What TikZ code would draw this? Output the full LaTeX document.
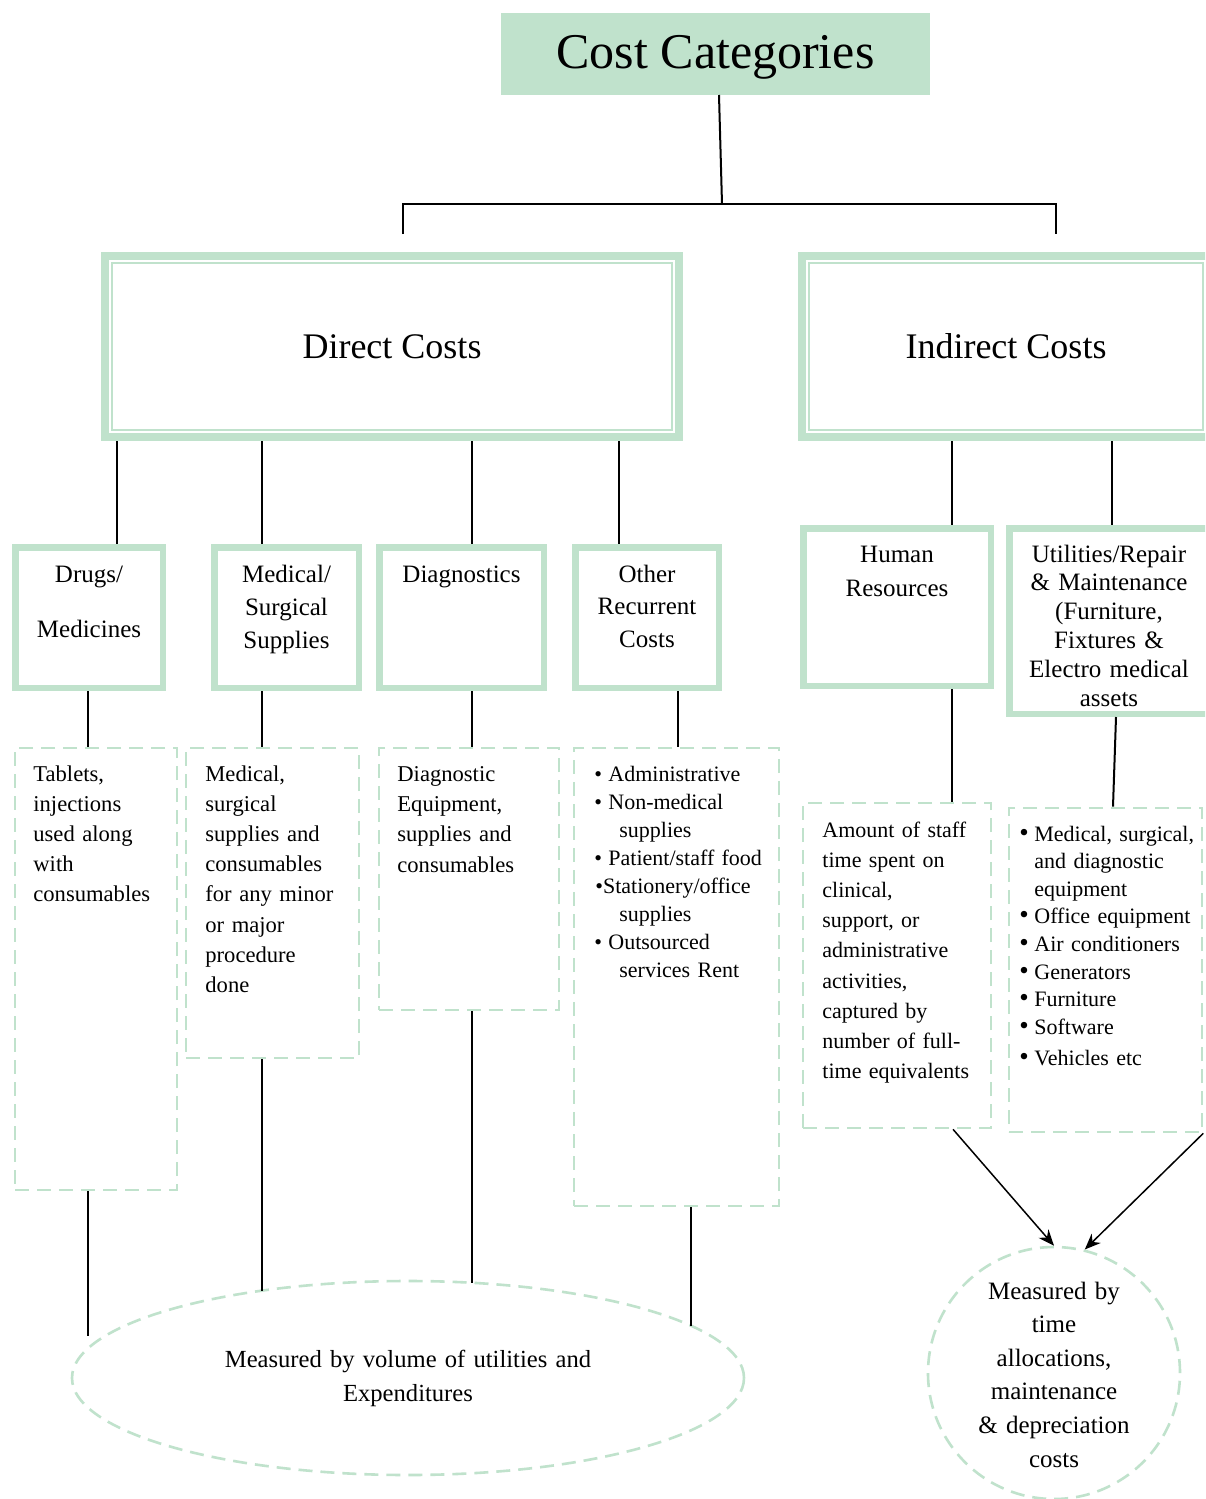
\documentclass[tikz,border=0pt]{standalone}
\usepackage{fontspec}
\setmainfont{Liberation Serif}
\usepackage{graphicx}
\usetikzlibrary{fit,shapes.geometric,arrows.meta}
\definecolor{lgreen}{RGB}{192,226,204}
\newcommand\obul{\makebox[7pt][l]{•}}
\newcommand\ubul{\makebox[7.5pt][l]{\fontsize{13.5}{13}\selectfont •}}
\begin{document}
\begin{tikzpicture}[x=0.5pt,y=-0.5pt,
  conn/.style={line width=1pt, black},
  arr/.style={line width=0.75pt, black, -{Stealth[length=8pt,width=6.5pt]}},
  titlebox/.style={fill=lgreen, inner sep=0pt, outer sep=0pt},
  mainbox/.style={draw=lgreen, line width=4pt, inner sep=0pt, outer sep=2pt},
  catbox/.style={draw=lgreen, line width=3.25pt, inner sep=0pt, outer sep=1.625pt},
  detbox/.style={draw=lgreen, line width=1.3pt, dash pattern=on 7pt off 4pt, inner sep=0pt, outer sep=0.65pt},
  measbox/.style={draw=lgreen, line width=1.3pt, dash pattern=on 7pt off 4pt, inner sep=0pt, outer sep=0.65pt},
  bigtxt/.style={anchor=base, inner sep=0pt, font=\fontsize{18}{22}\selectfont},
  cattxt/.style={anchor=base, inner sep=0pt, align=center, text width=95pt},
  dettxt/.style={anchor=base west, inner sep=0pt, align=left, text width=110pt}
]
\path[use as bounding box] (0,0) rectangle (1205,1499);
\clip (0,0) rectangle (1205,1499);
\fill[white] (0,0) rectangle (1205,1499);

% title
\node[titlebox, fit={(501,13) (930,95)}] (title) {};
\node[anchor=base, inner sep=0pt, font=\fontsize{25}{30}\selectfont] (titletxt) at (715.5,68) {Cost Categories};

% main boxes
\node[mainbox, fit={(105,256) (679,437)}] (direct) {};
\draw[lgreen, line width=1pt] ([shift={(5.5pt,-5.5pt)}]direct.north west) rectangle ([shift={(-5.5pt,5.5pt)}]direct.south east);
\node[bigtxt] (directtxt) at (392,358.5) {Direct Costs};
\node[mainbox, fit={(802,256) (1210,437)}] (indirect) {};
\draw[lgreen, line width=1pt] ([shift={(5.5pt,-5.5pt)}]indirect.north west) rectangle ([shift={(-5.5pt,5.5pt)}]indirect.south east);
\node[bigtxt] (indirecttxt) at (1006,358.5) {Indirect Costs};

% top connectors
\coordinate (hj) at (722,204);
\coordinate (hl) at (403,204);
\coordinate (hr) at (1056,204);
\coordinate (hlend) at (403,234);
\coordinate (hrend) at (1056,234);
\draw[conn] (title.south -| 719,0) -- (hj);
\draw[conn] (hlend) -- (hl) -- (hr) -- (hrend);

% category boxes
\node[catbox, fit={(15.25,547.25) (162.75,687.75)}] (drugs) {};
\node[catbox, fit={(214.25,547.25) (358.75,687.75)}] (medsup) {};
\node[catbox, fit={(379.25,547.25) (543.75,687.75)}] (diag) {};
\node[catbox, fit={(575.25,547.25) (718.75,687.75)}] (other) {};
\node[catbox, fit={(803.25,528.25) (990.75,685.75)}] (human) {};
\node[catbox, fit={(1009.25,528.25) (1208.75,713.75)}] (util) {};

\begin{scope}[font=\fontsize{12.5}{16.5}\selectfont]
\node[cattxt, font=\fontsize{12.5}{27.5}\selectfont] (drugstxt) at (89,582) {Drugs/\\Medicines};
\node[cattxt] (medsuptxt) at (286.5,582) {Medical/\\Surgical\\Supplies};
\node[cattxt] (diagtxt) at (461.5,582) {Diagnostics};
\node[cattxt, font=\fontsize{12.5}{16.25}\selectfont] (othertxt) at (647,582) {Other\\Recurrent\\Costs};
\node[cattxt, font=\fontsize{12.5}{17}\selectfont] (humantxt) at (897,562) {Human\\Resources};
\node[cattxt, font=\fontsize{12.5}{14.4}\selectfont] (utiltxt) at (1109,562) {Utilities/Repair\\\& Maintenance\\(Furniture,\\Fixtures \&\\Electro medical\\assets};
\end{scope}

\draw[conn] (direct.south -| 117,0) -- (drugs.north -| 117,0);
\draw[conn] (direct.south -| 262,0) -- (medsup.north -| 262,0);
\draw[conn] (direct.south -| 472,0) -- (diag.north -| 472,0);
\draw[conn] (direct.south -| 619,0) -- (other.north -| 619,0);
\draw[conn] (indirect.south -| 952,0) -- (human.north -| 952,0);
\draw[conn] (indirect.south -| 1112,0) -- (util.north -| 1112,0);

% detail boxes
\node[detbox, fit={(15,748) (177,1190)}] (d1) {};
\node[detbox, fit={(186,748) (359,1058)}] (d2) {};
\node[detbox, fit={(379,748) (559,1010)}] (d3) {};
\node[detbox, fit={(574,748) (779,1206)}] (d4) {};
\node[detbox, fit={(803,803) (991,1128)}] (d5) {};
\node[detbox, fit={(1009,808) (1202,1132)}] (d6) {};

\draw[conn] (drugs.south -| 88,0) -- (d1.north -| 88,0);
\draw[conn] (medsup.south -| 262,0) -- (d2.north -| 262,0);
\draw[conn] (diag.south -| 472,0) -- (d3.north -| 472,0);
\draw[conn] (other.south -| 678,0) -- (d4.north -| 678,0);
\draw[conn] (human.south -| 952,0) -- (d5.north -| 952,0);
\draw[conn] (util.south -| 1116,0) -- (d6.north -| 1113,0);

\node[dettxt, font=\fontsize{11.3}{15.1}\selectfont] (d1txt) at (33,781) {Tablets,\\injections\\used along\\with\\consumables};
\node[dettxt, font=\fontsize{11.3}{15.1}\selectfont] (d2txt) at (205,781) {Medical,\\surgical\\supplies and\\consumables\\for any minor\\or major\\procedure\\done};
\node[dettxt, font=\fontsize{11.3}{15.2}\selectfont] (d3txt) at (397,781) {Diagnostic\\Equipment,\\supplies and\\consumables};
\node[dettxt, font=\fontsize{11}{14}\selectfont] (d4txt) at (594,781) {\obul Administrative\\\obul Non-medical\\\hspace*{12.5pt}supplies\\\obul Patient/staff food\\\hspace*{0.5pt}•Stationery/office\\\hspace*{12.5pt}supplies\\\obul Outsourced\\\hspace*{12.5pt}services Rent};
\node[dettxt, font=\fontsize{11}{15.12}\selectfont] (d5txt) at (822,837) {Amount of staff\\time spent on\\clinical,\\support, or\\administrative\\activities,\\captured by\\number of full-\\time equivalents};
\node[dettxt, font=\fontsize{11}{13.8}\selectfont] (d6txt) at (1019,841) {\ubul Medical, surgical,\\\hspace*{7.5pt}and diagnostic\\\hspace*{7.5pt}equipment\\\ubul Office equipment\\\ubul Air conditioners\\\ubul Generators\\\ubul Furniture\\\ubul Software\\[1.7pt]\ubul Vehicles etc};

% measurement shapes
\node[measbox, ellipse, minimum width=336pt, minimum height=97pt] (meas1) at (408,1378) {};
\node[anchor=base, inner sep=0pt, align=center, text width=250pt, font=\fontsize{12.3}{17}\selectfont] (meas1txt) at (408,1367) {Measured by volume of utilities and\\Expenditures};
\node[measbox, circle, minimum size=126pt] (meas2) at (1054,1373) {};
\node[anchor=base, inner sep=0pt, align=center, text width=110pt, font=\fontsize{12.5}{16.8}\selectfont] (meas2txt) at (1054,1299) {Measured by\\time\\allocations,\\maintenance\\\& depreciation\\costs};

\coordinate (e1) at (88,1336);
\draw[conn] (d1.south -| 88,0) -- (e1);
\draw[conn] (d2.south -| 262,0) -- (262,1290.6);
\draw[conn] (d3.south -| 472,0) -- (472,1283);
\draw[conn] (d4.south -| 691,0) -- (691,1325.7);

\draw[arr] (d5.south -| 953,0) -- (meas2.north);
\draw[arr] (d6.south east) -- (meas2.76);
\end{tikzpicture}
\end{document}
